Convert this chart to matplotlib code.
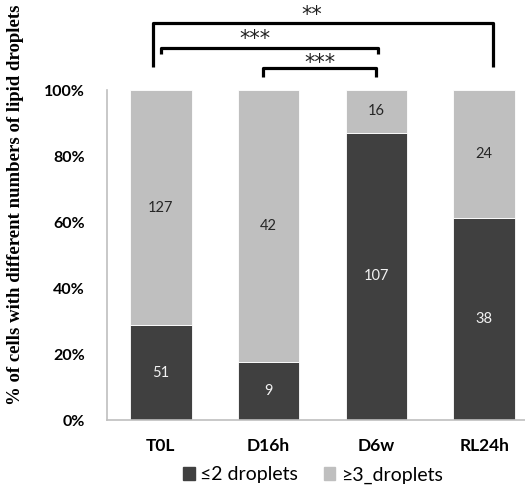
import numpy as np
import matplotlib.pyplot as plt
from matplotlib.patches import Patch

categories = ['T0L', 'D16h', 'D6w', 'RL24h']
low_counts = [51, 9, 107, 38]      # <=2 droplets
high_counts = [127, 42, 16, 24]    # >=3 droplets
tick_labels = ['0%', '20%', '40%', '60%', '80%', '100%']

dark = '#404040'
light = '#bfbfbf'
sans = ['Lato', 'DejaVu Sans']

low = np.array(low_counts, dtype=float)
high = np.array(high_counts, dtype=float)
total = low + high
low_pct = low / total * 100
high_pct = high / total * 100

fig = plt.figure(figsize=(5.25, 4.87), dpi=100)
ax = fig.add_axes([107 / 525, 67 / 487, 431 / 525, 330 / 487])

x = np.arange(len(categories))
w = 0.57
ax.bar(x, low_pct, w, color=dark, edgecolor='white', linewidth=0.6)
ax.bar(x, high_pct, w, bottom=low_pct, color=light, edgecolor='white', linewidth=0.6)

for i in range(len(categories)):
    ax.text(x[i], low_pct[i] / 2, str(low_counts[i]), ha='center', va='center',
            color='#f2f2f2', fontsize=10.5, family=sans)
    ax.text(x[i], low_pct[i] + high_pct[i] / 2, str(high_counts[i]), ha='center',
            va='center', color='#262626', fontsize=10.5, family=sans)

ax.set_xlim(-0.5, 3.5)
ax.set_ylim(0, 100)
ax.set_yticks(np.arange(0, 101, 20))
ax.set_yticklabels(tick_labels, fontsize=11.5, fontweight='bold', family=sans)
ax.set_xticks(x)
ax.set_xticklabels(categories, fontsize=12.5, fontweight='bold', family=sans)
ax.tick_params(axis='y', length=0, pad=16)
ax.tick_params(axis='x', length=0, pad=13)
for s in ['top', 'right']:
    ax.spines[s].set_visible(False)
for s in ['left', 'bottom']:
    ax.spines[s].set_color('#bfbfbf')
    ax.spines[s].set_linewidth(1.2)

fig.text(16 / 525, 1 - 205 / 487, '% of cells with different numbers of lipid droplets',
         rotation=90, ha='center', va='center', fontsize=13.5, fontweight='bold',
         family='Liberation Serif')

# significance brackets (data coords)
def bracket(x0, x1, top, bottom, label, lx, ly):
    ax.plot([x0, x0, x1, x1], [bottom, top, top, bottom], color='black', lw=2.3,
            solid_joinstyle='round', solid_capstyle='butt', clip_on=False)
    ax.text(lx, ly, label, ha='center', va='center', fontsize=15, color='#222222',
            family='DejaVu Sans', clip_on=False)

bracket(-0.074, 3.079, 120.4, 107.1, '**', 1.40, 122.8)
bracket(0.0, 2.013, 112.8, 110.9, '***', 0.87, 115.4)
bracket(0.948, 1.995, 106.7, 103.9, '***', 1.48, 108.3)

handles = [Patch(color=dark, label='≤2 droplets'), Patch(color=light, label='≥3_droplets')]
fig.legend(handles=handles, loc='center', bbox_to_anchor=(313 / 525, 1 - 475 / 487),
           ncol=2, frameon=False, handlelength=0.6, handleheight=0.6, handletextpad=0.3,
           columnspacing=1.3, prop={'family': sans, 'size': 14})

fig.savefig('out.png', dpi=100)
